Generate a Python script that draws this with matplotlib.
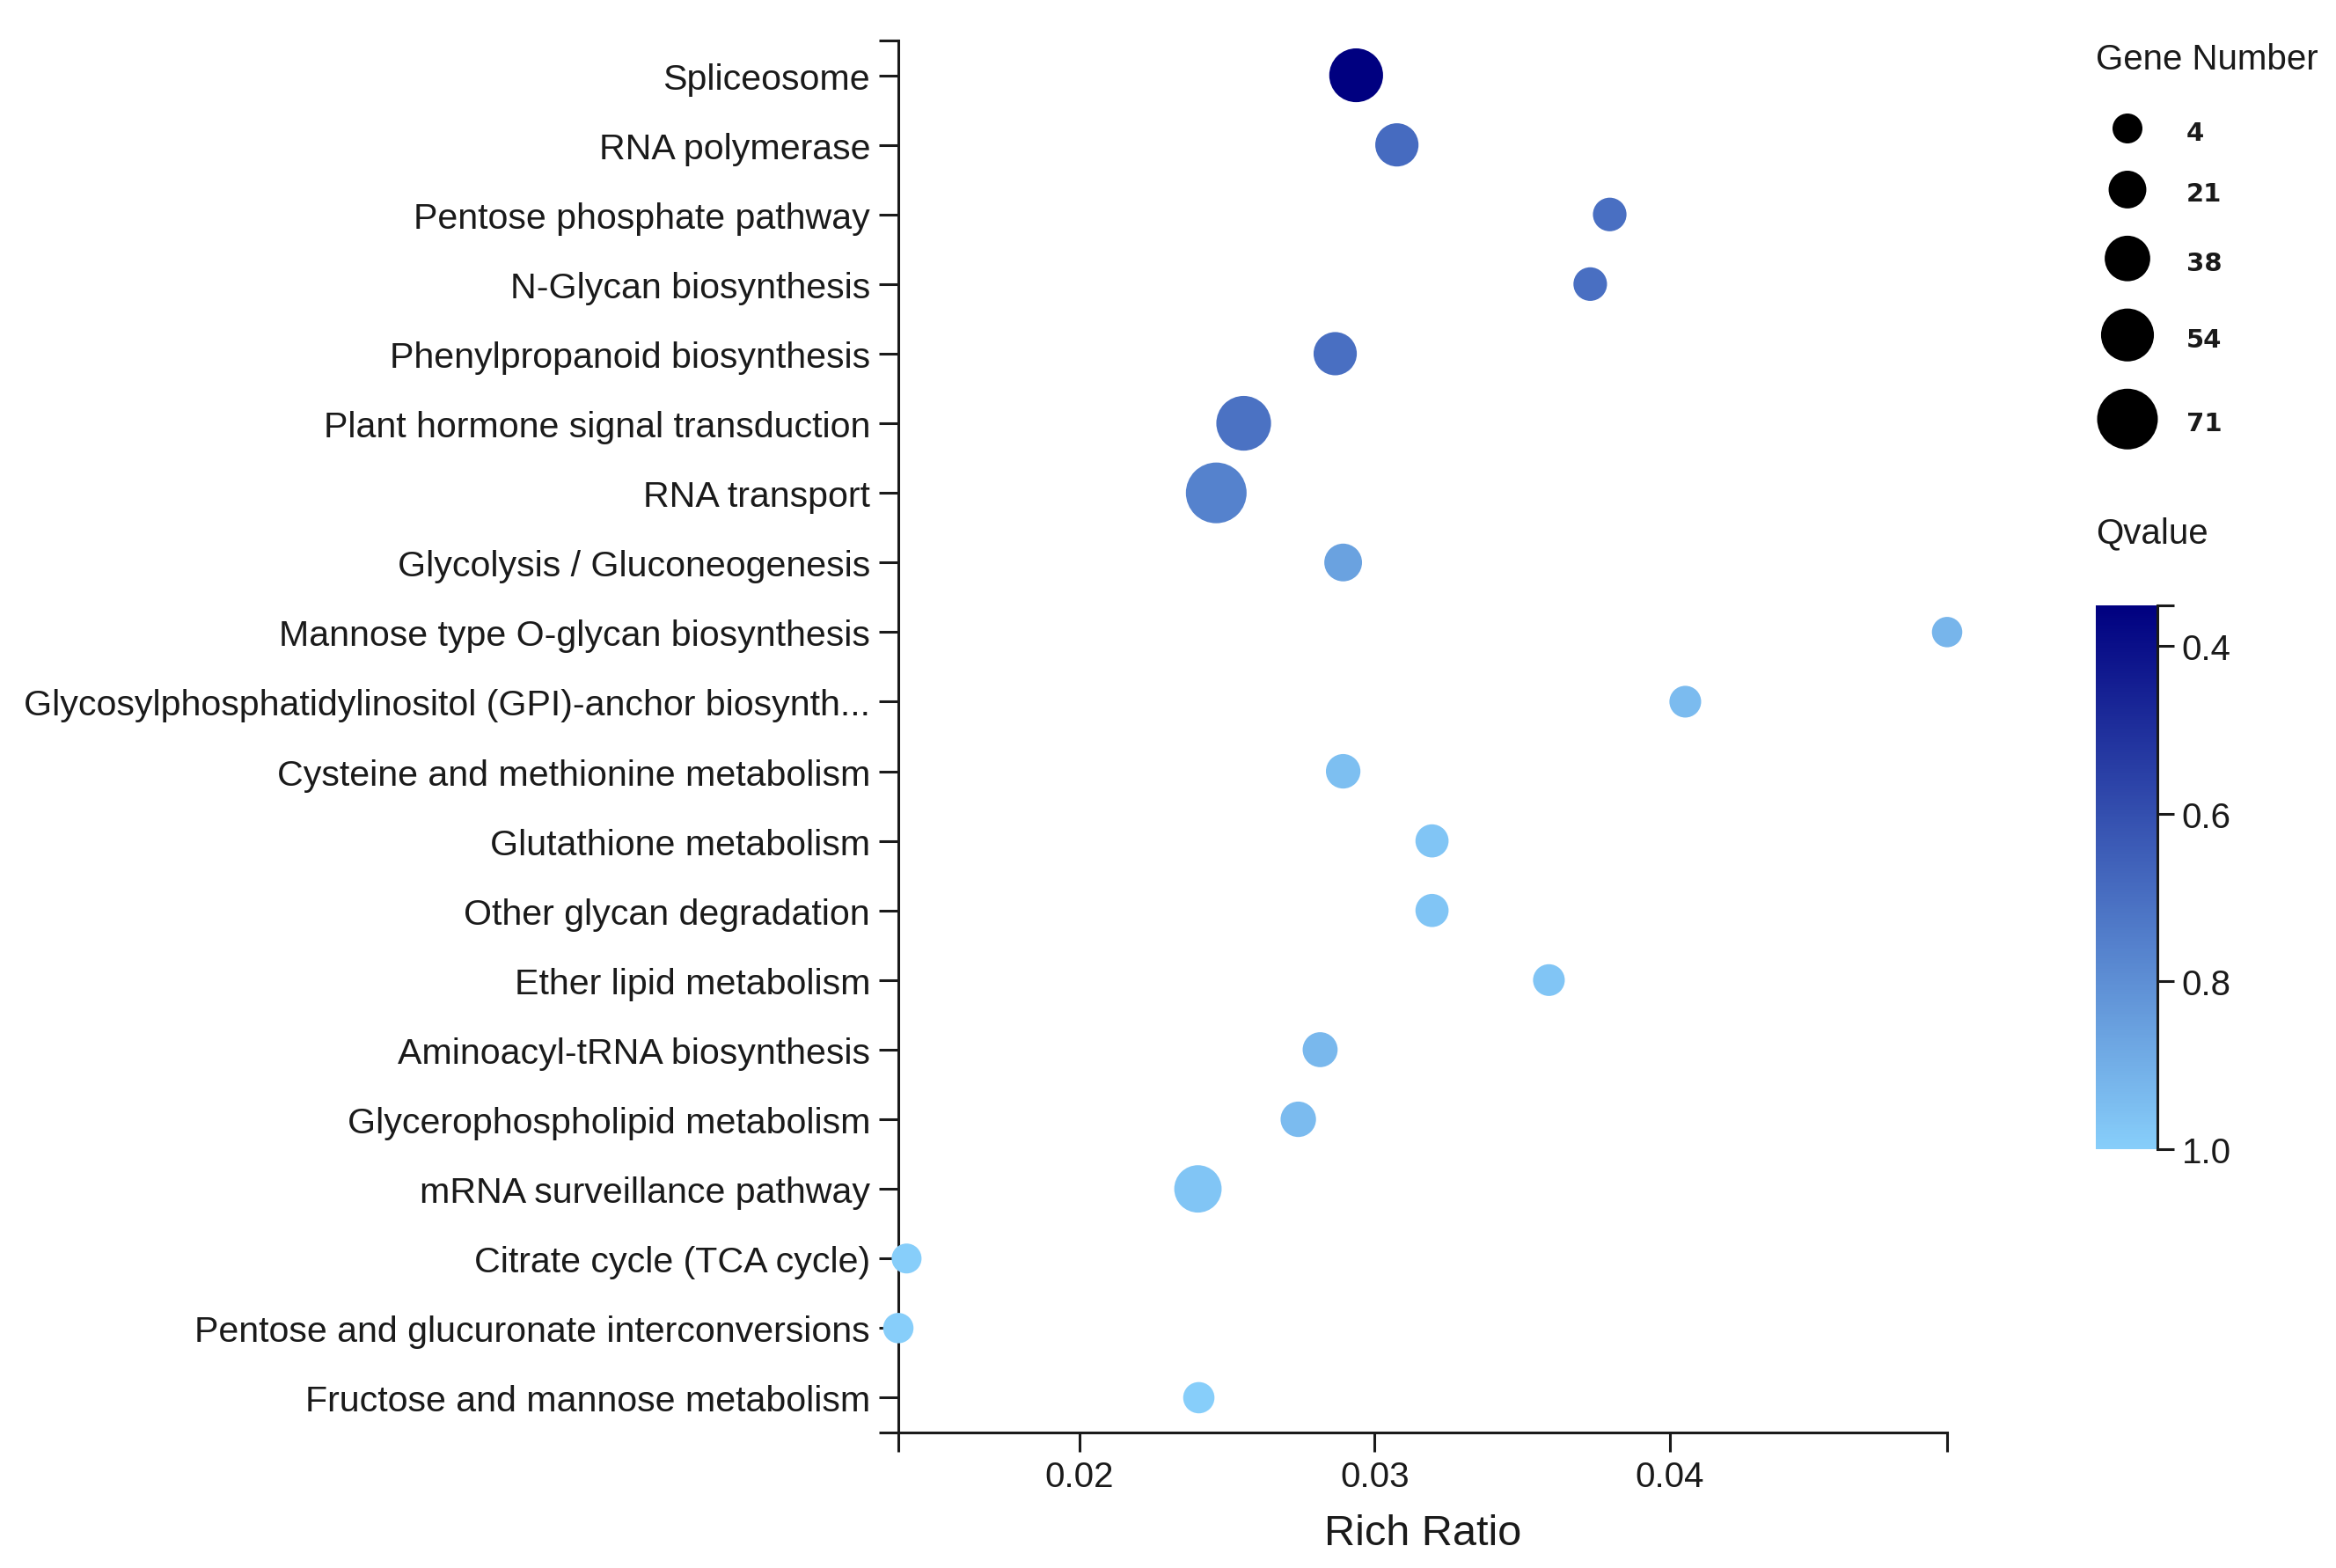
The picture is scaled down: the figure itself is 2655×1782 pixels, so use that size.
import numpy as np
import matplotlib
matplotlib.use("Agg")
import matplotlib.pyplot as plt
from matplotlib.colors import LinearSegmentedColormap, Normalize
from matplotlib.cm import ScalarMappable

plt.rcParams['font.family'] = ['Liberation Sans', 'DejaVu Sans']

# ---------------- data ----------------
pathways = [
    "Spliceosome",
    "RNA polymerase",
    "Pentose phosphate pathway",
    "N-Glycan biosynthesis",
    "Phenylpropanoid biosynthesis",
    "Plant hormone signal transduction",
    "RNA transport",
    "Glycolysis / Gluconeogenesis",
    "Mannose type O-glycan biosynthesis",
    "Glycosylphosphatidylinositol (GPI)-anchor biosynth...",
    "Cysteine and methionine metabolism",
    "Glutathione metabolism",
    "Other glycan degradation",
    "Ether lipid metabolism",
    "Aminoacyl-tRNA biosynthesis",
    "Glycerophospholipid metabolism",
    "mRNA surveillance pathway",
    "Citrate cycle (TCA cycle)",
    "Pentose and glucuronate interconversions",
    "Fructose and mannose metabolism",
]
rich_ratio = [0.02937, 0.03075, 0.03796, 0.03730, 0.02866, 0.02556, 0.02463,
              0.02893, 0.04939, 0.04052, 0.02893, 0.03194, 0.03194, 0.03590,
              0.02815, 0.02741, 0.02401, 0.01414, 0.01386, 0.02404]
gene_number = [56, 33, 12, 12, 33, 58, 71, 21, 5, 8, 14, 11, 11, 8, 15, 16, 42, 4, 5, 7]
qvalue = [0.352, 0.69, 0.70, 0.70, 0.70, 0.71, 0.76, 0.86, 0.92, 0.94,
          0.95, 0.97, 0.97, 0.97, 0.93, 0.94, 0.97, 1.0, 1.0, 1.0]

legend_values = [4, 21, 38, 54, 71]
x_ticks = [0.02, 0.03, 0.04]
cbar_ticks = [0.4, 0.6, 0.8, 1.0]

# ---------------- styling helpers ----------------
W, H = 2655, 1783
DPI = 100
PX2PT = 72.0 / DPI
TXT = '#1a1a1a'

cmap = LinearSegmentedColormap.from_list('q', ['#000080', '#87CEFA'])
norm = Normalize(vmin=min(qvalue), vmax=1.0)

gmin, gmax = min(legend_values), max(legend_values)
dmin_px, dmax_px = 34.0, 69.0


def diam_px(n):
    return dmin_px + (np.asarray(n, float) - gmin) * (dmax_px - dmin_px) / (gmax - gmin)


def size_pts(n):
    return (diam_px(n) * PX2PT) ** 2


fig = plt.figure(figsize=(W / DPI, H / DPI), dpi=DPI)

# ---------------- main axes ----------------
left, right, top, bottom = 1021, 2213, 47, 1629
ax = fig.add_axes([left / W, 1 - bottom / H, (right - left) / W, (bottom - top) / H])

ypos = np.arange(len(pathways))
ax.scatter(rich_ratio, ypos, s=size_pts(gene_number), c=qvalue, cmap=cmap, norm=norm,
           edgecolors='none', clip_on=False, zorder=3)

ax.set_xlim(min(rich_ratio), max(rich_ratio))
ax.set_ylim(len(pathways) - 0.5, -0.5)

ax.set_yticks(ypos)
ax.set_yticklabels(pathways, fontsize=29.6)
ax.set_xticks(x_ticks)
ax.set_xticklabels([f"{t:.2f}" for t in x_ticks], fontsize=29)
ax.set_xticks([min(rich_ratio), max(rich_ratio)], minor=True)
ax.set_yticks([-0.5, len(pathways) - 0.5], minor=True)

for s in ['top', 'right']:
    ax.spines[s].set_visible(False)
for s in ['left', 'bottom']:
    ax.spines[s].set_linewidth(2.2)
    ax.spines[s].set_color(TXT)

ax.tick_params(axis='both', which='both', length=16, width=2.2, color=TXT,
               labelcolor=TXT)
ax.tick_params(axis='y', which='major', pad=7)
ax.tick_params(axis='x', which='major', pad=6)

ax.set_xlabel('Rich Ratio', fontsize=35, color=TXT, va='center')
ax.xaxis.set_label_coords(0.5, -(1744 - bottom) / (bottom - top))

# ---------------- size legend ----------------
lax = fig.add_axes([0, 0, 1, 1])
lax.set_xlim(0, W)
lax.set_ylim(H, 0)
lax.axis('off')
lax.patch.set_alpha(0)

lax.text(2382, 68, 'Gene Number', fontsize=29, color=TXT, ha='left', va='center')
radii = diam_px(legend_values) / 2.0
yc = 147.0
for i, v in enumerate(legend_values):
    if i > 0:
        yc += radii[i - 1] + radii[i] + 31
    lax.scatter([2418], [yc], s=size_pts([v]), c='black', edgecolors='none')
    lax.text(2485, yc + 5, str(v), fontsize=21, fontweight='bold', color=TXT,
             family='DejaVu Sans', ha='left', va='center')

lax.text(2382, 606, 'Qvalue', fontsize=29, color=TXT, ha='left', va='center')

# ---------------- colorbar ----------------
cb_l, cb_r, cb_t, cb_b = 2382, 2452, 689, 1307
cax = fig.add_axes([cb_l / W, 1 - cb_b / H, (cb_r - cb_l) / W, (cb_b - cb_t) / H])
cb = fig.colorbar(ScalarMappable(norm=norm, cmap=cmap), cax=cax, orientation='vertical')
cb.outline.set_visible(False)
cax.invert_yaxis()
cb.set_ticks(cbar_ticks)
cb.set_ticklabels([f"{t:.1f}" for t in cbar_ticks])
cax.yaxis.set_ticks([norm.vmin], minor=True)
cax.tick_params(axis='y', which='both', length=14, width=2.2, color=TXT,
                labelcolor=TXT, labelsize=29, pad=6)
cax.plot([1, 1], [0, 1], transform=cax.transAxes, color=TXT, lw=2.2, clip_on=False)

fig.savefig('out.png', dpi=DPI, facecolor='white')
